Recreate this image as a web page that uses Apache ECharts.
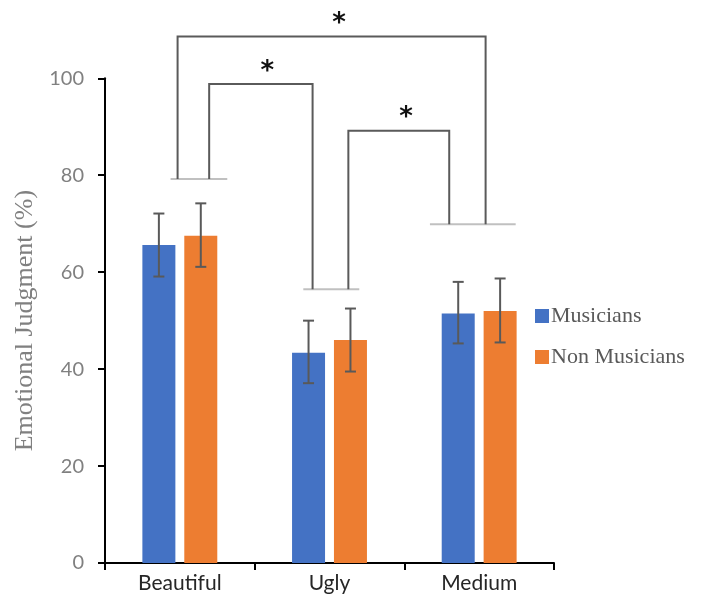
<!DOCTYPE html>
<html>
<head>
<meta charset="utf-8">
<script src="https://cdn.jsdelivr.net/npm/echarts@6/dist/echarts.min.js"></script>
<style>
html,body{margin:0;padding:0;background:#fff;}
#chart{width:703px;height:597px;}
</style>
</head>
<body>
<div id="chart"></div>
<script>
// Stimulus categories and group means (%)
const categories = ['Beautiful', 'Ugly', 'Medium'];
const musicians = [65.6, 43.4, 51.5];
const nonMusicians = [67.5, 46.0, 52.0];
// Error bar limits [low, high]
const musiciansErr = [[59.1, 72.1], [37.1, 50.0], [45.3, 58.0]];
const nonMusiciansErr = [[61.1, 74.2], [39.5, 52.5], [45.5, 58.7]];
// Y axis ticks
const yTicks = [0, 20, 40, 60, 80, 100];

// Significance baselines over each category: [xStart, xEnd, level] in category units
const sigBases = [[0.438, 0.817, 79.2], [1.325, 1.699, 56.5], [2.171, 2.744, 69.9]];
// Brackets: [xLeft, xRight, topLevel, leftFoot, rightFoot, starX]
const brackets = [
  [0.485, 2.543, 108.6, 79.2, 69.9, 1.563],
  [0.696, 1.387, 98.8, 79.2, 56.5, 1.085],
  [1.626, 2.300, 89.2, 56.5, 69.9, 2.011]
];
const starLabel = '*';

const BAR_W = 33;
const BAR_GAP = 0.27;
const blue = '#4472C4';
const orange = '#ED7D31';
const errColor = '#595959';

const chart = echarts.init(document.getElementById('chart'), null, {renderer: 'canvas'});

function errorSeries(name, errs, side) {
  const offset = side * (BAR_W * (1 + BAR_GAP)) / 2;
  return {
    type: 'custom',
    name: name + ' err',
    xAxisIndex: 0,
    yAxisIndex: 0,
    z: 5,
    silent: true,
    data: errs.map((e, i) => [i, e[0], e[1]]),
    renderItem: function (params, api) {
      const lo = api.coord([api.value(0), api.value(1)]);
      const hi = api.coord([api.value(0), api.value(2)]);
      const x = lo[0] + offset;
      const cap = 5.5;
      const style = {stroke: errColor, lineWidth: 2};
      return {
        type: 'group',
        children: [
          {type: 'line', shape: {x1: x, y1: lo[1], x2: x, y2: hi[1]}, style: style},
          {type: 'line', shape: {x1: x - cap, y1: lo[1], x2: x + cap, y2: lo[1]}, style: style},
          {type: 'line', shape: {x1: x - cap, y1: hi[1], x2: x + cap, y2: hi[1]}, style: style}
        ]
      };
    }
  };
}

const option = {
  backgroundColor: '#fff',
  animation: false,
  grid: {left: 105, right: 149, top: 78.3, bottom: 34, containLabel: false},
  legend: {
    orient: 'vertical',
    left: 535,
    top: 305,
    padding: 0,
    itemWidth: 14,
    itemHeight: 14,
    itemGap: 19,
    icon: 'rect',
    data: ['Musicians', 'Non Musicians'],
    textStyle: {fontFamily: 'Liberation Serif', fontSize: 22, color: '#595959', padding: [0, 0, 0, -3]}
  },
  xAxis: [
    {
      type: 'category',
      data: categories,
      axisLine: {lineStyle: {color: '#000', width: 2}},
      axisTick: {show: true, alignWithLabel: false, length: 7, lineStyle: {color: '#000', width: 2}},
      axisLabel: {fontFamily: 'Lato', fontSize: 21, color: '#262626', margin: 10},
      splitLine: {show: false}
    },
    {
      type: 'value',
      min: 0,
      max: 3,
      show: false
    }
  ],
  yAxis: {
    type: 'value',
    min: 0,
    max: 100,
    interval: 20,
    name: 'Emotional Judgment (%)',
    nameLocation: 'middle',
    nameGap: 55,
    nameRotate: 90,
    nameTextStyle: {fontFamily: 'Liberation Serif', fontSize: 26, color: '#808080'},
    axisLine: {show: true, lineStyle: {color: '#000', width: 2}},
    axisTick: {show: true, length: 7, lineStyle: {color: '#000', width: 2}},
    axisLabel: {
      fontFamily: 'Lato', fontSize: 20, color: '#808080', margin: 21,
      formatter: v => yTicks.includes(v) ? String(v) : ''
    },
    splitLine: {show: false}
  },
  series: [
    {
      name: 'Musicians',
      type: 'bar',
      data: musicians,
      barWidth: BAR_W,
      barGap: (BAR_GAP * 100) + '%',
      itemStyle: {color: blue},
      z: 2
    },
    {
      name: 'Non Musicians',
      type: 'bar',
      data: nonMusicians,
      barWidth: BAR_W,
      itemStyle: {color: orange},
      z: 2
    },
    errorSeries('Musicians', musiciansErr, -1),
    errorSeries('Non Musicians', nonMusiciansErr, 1),
    {
      // light baselines for significance brackets
      type: 'custom',
      xAxisIndex: 1,
      yAxisIndex: 0,
      clip: false,
      silent: true,
      z: 3,
      data: sigBases,
      renderItem: function (params, api) {
        const a = api.coord([api.value(0), api.value(2)]);
        const b = api.coord([api.value(1), api.value(2)]);
        return {type: 'line', shape: {x1: a[0], y1: a[1], x2: b[0], y2: b[1]},
                style: {stroke: '#c0c0c0', lineWidth: 2}};
      }
    },
    {
      // bracket lines with asterisks
      type: 'custom',
      xAxisIndex: 1,
      yAxisIndex: 0,
      clip: false,
      silent: true,
      z: 4,
      data: brackets,
      renderItem: function (params, api) {
        const xl = api.value(0), xr = api.value(1), top = api.value(2);
        const tl = api.coord([xl, top]);
        const tr = api.coord([xr, top]);
        const fl = api.coord([xl, api.value(3)]);
        const fr = api.coord([xr, api.value(4)]);
        const st = api.coord([api.value(5), top]);
        return {
          type: 'group',
          children: [
            {type: 'polyline', shape: {points: [fl, tl, tr, fr]},
             style: {stroke: '#5a5a5a', lineWidth: 2, fill: null}},
            {type: 'text', x: st[0], y: st[1] - 12,
             style: {text: starLabel, fontFamily: 'DejaVu Sans', fontWeight: 'bold', fontSize: 26,
                     fill: '#111', align: 'center', verticalAlign: 'middle'}}
          ]
        };
      }
    }
  ]
};

chart.setOption(option);
</script>
</body>
</html>
